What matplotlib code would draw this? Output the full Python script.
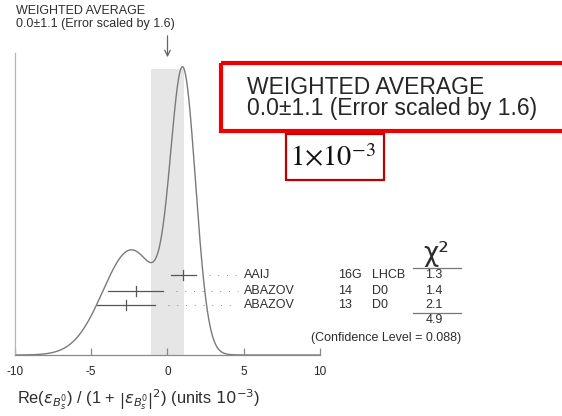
import numpy as np
import matplotlib
matplotlib.use("Agg")
import matplotlib.pyplot as plt
from matplotlib.patches import Rectangle
from matplotlib import transforms

# Measurements of Re(eps_Bs)/(1+|eps_Bs|^2) in units of 1e-3
authors = ["AAIJ", "ABAZOV", "ABAZOV"]
years = ["16G", "14", "13"]
experiments = ["LHCB", "D0", "D0"]
values = [1.03, -2.08, -2.72]
errors = [0.82, 1.80, 1.88]
chi2 = ["1.3", "1.4", "2.1"]
chi2_total = "4.9"
conf_level = "0.088"
avg_value = 0.0
avg_error = 1.1
err_scale = 1.6
xticks = [-10, -5, 0, 5, 10]

W, H = 562, 416
fig = plt.figure(figsize=(W / 100, H / 100), dpi=100)
sans = ["Liberation Sans", "DejaVu Sans"]
plt.rcParams["font.family"] = sans
txt = "#2e2e2e"

# ideogram axes
ax = fig.add_axes([15 / W, 61 / H, 305 / W, 302.3 / H])
# overlay in pixel coordinates for annotations
ov = fig.add_axes([0, 0, 1, 1], zorder=5)
ov.set_xlim(0, W)
ov.set_ylim(H, 0)
ov.axis("off")
ov.patch.set_alpha(0)

# ideogram: each measurement is a Gaussian of width sigma and area 1/sigma
x = np.linspace(-10, 10, 2001)
curve = np.zeros_like(x)
for v, e in zip(values, errors):
    curve += np.exp(-0.5 * ((x - v) / e) ** 2) / (e * e * np.sqrt(2 * np.pi))
ymax = curve.max() / 0.9537

ax.axvspan(avg_value - avg_error, avg_value + avg_error, ymin=0, ymax=0.946,
           color="#e6e6e6", lw=0, zorder=0)
ax.plot(x, curve, color="#7a7a7a", lw=1.0, zorder=2)
ax.set_xlim(-10, 10)
ax.set_ylim(0, ymax)
ax.patch.set_alpha(0)
for s in ["top", "right"]:
    ax.spines[s].set_visible(False)
ax.spines["left"].set_color("#b5b5b5")
ax.spines["left"].set_linewidth(0.9)
ax.spines["bottom"].set_color("#8a8a8a")
ax.spines["bottom"].set_linewidth(0.9)
ax.set_yticks([])
ax.set_xticks(xticks)
ax.set_xticklabels([str(t) for t in xticks])
ax.tick_params(axis="x", direction="in", length=5, width=0.9, color="#8a8a8a",
               pad=8, labelsize=8.5, labelcolor="#262626")

# error bars: x in data units, y in pixel rows
trans = transforms.blended_transform_factory(ax.transData, ov.transData)
rows = [275, 290.5, 305]
fig.canvas.draw()
for v, e, yr, a, yy, ex, c in zip(values, errors, rows, authors, years,
                                    experiments, chi2):
    ax.plot([v - e, v + e], [yr, yr], transform=trans, color="#555555",
            lw=0.9, clip_on=False, zorder=3)
    ax.plot([v, v], [yr - 5, yr + 5], transform=trans, color="#555555",
            lw=0.9, clip_on=False, zorder=3)
    xd = ax.transData.transform((v + e, 0))[0]
    xs = ov.transData.inverted().transform((xd, 0))[0] + 13
    ov.plot([xs, 238], [yr, yr], color="#8a8a8a", lw=0.7,
            linestyle=(0, (1, 8)))
    ov.text(243.5, yr, a, ha="left", va="center", fontsize=9, color=txt)
    ov.text(338, yr, yy, ha="left", va="center", fontsize=9, color=txt)
    ov.text(372, yr, ex, ha="left", va="center", fontsize=9, color=txt)
    ov.text(434, yr, c, ha="center", va="center", fontsize=9, color=txt)

ov.text(436, 254, "χ²", ha="center", va="center", fontsize=19, color=txt,
        family=["DejaVu Sans"])
ov.plot([413, 461], [267.5, 267.5], color="#777777", lw=0.9)
ov.plot([413, 461], [312.5, 312.5], color="#777777", lw=0.9)
ov.text(434, 320, chi2_total, ha="center", va="center", fontsize=9, color=txt)
ov.text(461, 337.5, f"(Confidence Level = {conf_level})", ha="right",
        va="center", fontsize=9, color=txt)

# weighted average heading and arrow
ov.text(15.5, 10.5, "WEIGHTED AVERAGE", ha="left", va="center", fontsize=9,
        color=txt)
ov.text(15.5, 24.5, f"{avg_value:.1f}±{avg_error:.1f} (Error scaled by {err_scale})",
        ha="left", va="center", fontsize=9, color=txt)
ov.annotate("", xy=(avg_value, 60), xytext=(avg_value, 33),
            xycoords=trans, textcoords=trans,
            arrowprops=dict(arrowstyle="->", color="#666666", lw=0.9,
                            mutation_scale=10))

# axis title
ov.text(17, 400, r"Re($\epsilon_{B^0_s}$) / (1 + $\left|\epsilon_{B^0_s}\right|^2$) (units $10^{-3}$)",
        ha="left", va="center", fontsize=11.8, color=txt)

# highlighted boxes
ov.add_patch(Rectangle((221, 62.5), 400, 68, fill=False, edgecolor="#ee0000",
                       lw=3, clip_on=False))
ov.text(247, 87, "WEIGHTED AVERAGE", ha="left", va="center", fontsize=16.5,
        color="#262626")
ov.text(247, 108.5, f"{avg_value:.1f}±{avg_error:.1f} (Error scaled by {err_scale})",
        ha="left", va="center", fontsize=16.5, color="#262626")
ov.add_patch(Rectangle((285.5, 134), 98, 46, fill=False, edgecolor="#c00000",
                       lw=1.6, clip_on=False))
ov.text(333, 159, r"$1{\times}10^{-3}$", ha="center", va="center", fontsize=20.5,
        color="#111111", math_fontfamily="stix")

fig.savefig("out.png", dpi=100)
